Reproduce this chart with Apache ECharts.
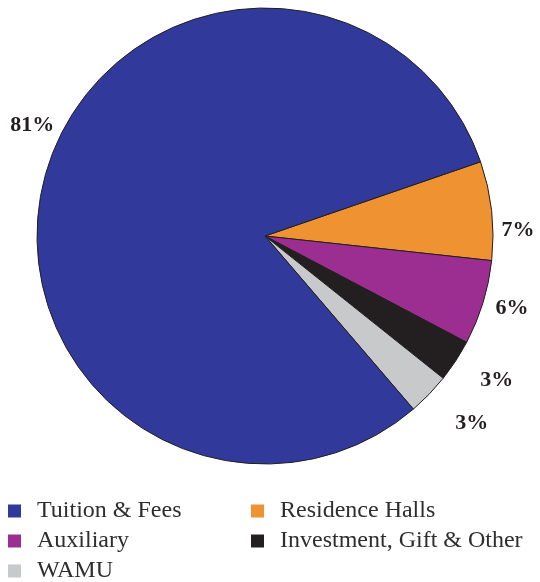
<!DOCTYPE html>
<html>
<head>
<meta charset="utf-8">
<script src="https://cdn.jsdelivr.net/npm/echarts@6/dist/echarts.min.js"></script>
<style>
  html, body { margin: 0; padding: 0; background: #ffffff; }
  #chart { width: 540px; height: 582px; }
</style>
</head>
<body>
<div id="chart"></div>
<script>
// Revenue sources, percent of total
const categories = ['Tuition & Fees', 'Residence Halls', 'Auxiliary', 'Investment, Gift & Other', 'WAMU'];
const shares = [81, 7, 6, 3, 3];
const colors = ['#31399a', '#ef9232', '#9c2e91', '#231f20', '#c8c9cb'];

// slices run clockwise starting with Residence Halls
const drawOrder = [1, 2, 3, 4, 0];

// legend columns
const legendLeft = ['Tuition & Fees', 'Auxiliary', 'WAMU'];
const legendRight = ['Residence Halls', 'Investment, Gift & Other'];

// small label nudges away from the default outside placement
const labelNudge = {
  'Tuition & Fees': [24, -48],
  'Residence Halls': [-5, 21],
  'Auxiliary': [-2, 3],
  'Investment, Gift & Other': [11, 14],
  'WAMU': [14, 22]
};

const serif = '"Liberation Serif", "DejaVu Serif", serif';

const pieData = drawOrder.map(i => ({
  name: categories[i],
  value: shares[i],
  itemStyle: { color: colors[i] }
}));

const chart = echarts.init(document.getElementById('chart'), null, { renderer: 'canvas' });

const legendBase = {
  orient: 'vertical',
  top: 494,
  height: 120,
  itemWidth: 13,
  itemHeight: 13,
  itemGap: 6,
  icon: 'rect',
  selectedMode: false,
  itemStyle: { borderWidth: 0 },
  textStyle: { fontFamily: serif, fontSize: 24, color: '#2e2e2e', padding: [0, 0, 0, 11] }
};

chart.setOption({
  animation: false,
  backgroundColor: '#ffffff',
  color: colors,
  legend: [
    Object.assign({}, legendBase, { left: 3, data: legendLeft }),
    Object.assign({}, legendBase, { left: 246, data: legendRight })
  ],
  series: [{
    type: 'pie',
    center: [265, 236],
    radius: 228,
    startAngle: 19,
    clockwise: true,
    avoidLabelOverlap: false,
    silent: true,
    itemStyle: { borderColor: '#231f20', borderWidth: 1 },
    label: {
      show: true,
      position: 'outside',
      formatter: '{c}%',
      fontFamily: serif,
      fontSize: 22,
      fontWeight: 'bold',
      color: '#231f20'
    },
    labelLine: { show: false, length: 10, length2: 0 },
    labelLayout: function (params) {
      const name = pieData[params.dataIndex].name;
      const n = labelNudge[name] || [0, 0];
      return { dx: n[0], dy: n[1] };
    },
    data: pieData
  }]
});
</script>
</body>
</html>
